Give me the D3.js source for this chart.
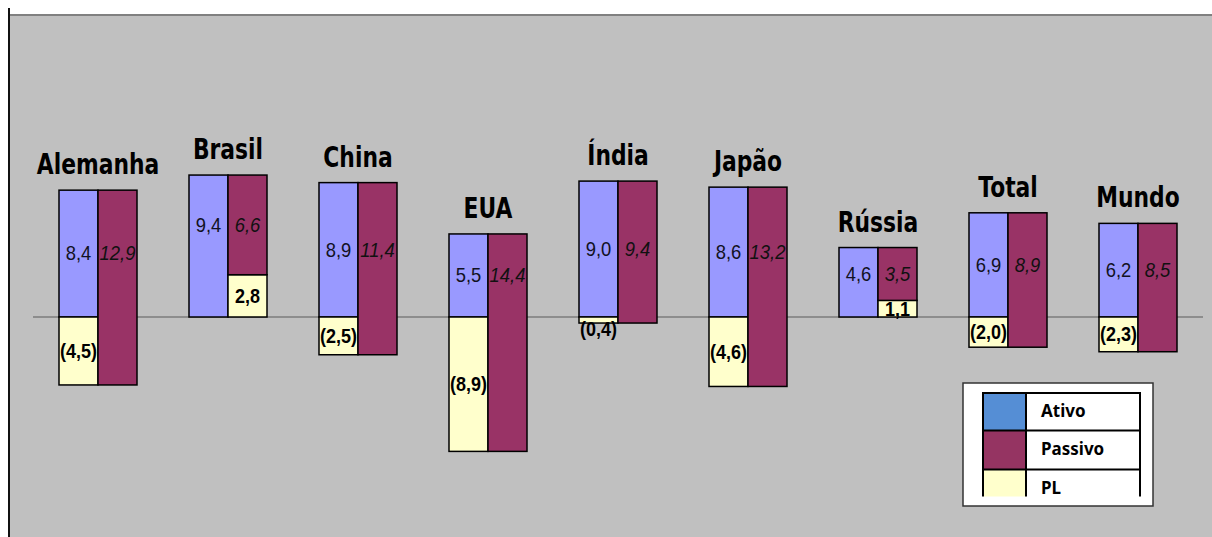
<!DOCTYPE html>
<html>
<head>
<meta charset="utf-8">
<script src="https://cdn.jsdelivr.net/npm/d3@7/dist/d3.min.js"></script>
<style>
  html, body { margin: 0; padding: 0; background: #ffffff; }
  svg { display: block; }
</style>
</head>
<body>
<svg id="chart" width="1212" height="537"></svg>
<script>
// Balance-sheet style comparison: Ativo = Passivo + PL, by country
const categories = ["Alemanha", "Brasil", "China", "EUA", "Índia", "Japão", "Rússia", "Total", "Mundo"];
const ativo   = [8.4, 9.4, 8.9, 5.5, 9.0, 8.6, 4.6, 6.9, 6.2];
const passivo = [12.9, 6.6, 11.4, 14.4, 9.4, 13.2, 3.5, 8.9, 8.5];
const pl      = [-4.5, 2.8, -2.5, -8.9, -0.4, -4.6, 1.1, -2.0, -2.3];
const legendLabels = ["Ativo", "Passivo", "PL"];

const colors = { ativo: "#9999FF", passivo: "#993366", pl: "#FFFFCC" };
const legendColors = ["#558ED5", "#953462", "#FFFFCC"];

const W = 1212, H = 537;
const svg = d3.select("#chart");

// Frame: white strip on top, grey plot area, left rule
svg.append("rect").attr("x", 0).attr("y", 0).attr("width", W).attr("height", H).attr("fill", "#ffffff");
svg.append("rect").attr("x", 10).attr("y", 15).attr("width", W - 10).attr("height", H - 15).attr("fill", "#C0C0C0");
svg.append("line").attr("x1", 10).attr("x2", W).attr("y1", 15).attr("y2", 15)
  .attr("stroke", "#808080").attr("stroke-width", 2);
svg.append("line").attr("x1", 9).attr("x2", 9).attr("y1", 8).attr("y2", H)
  .attr("stroke", "#111111").attr("stroke-width", 2);

// Scales
const x = d3.scaleBand().domain(categories).range([33, 1203]).paddingInner(0.4).paddingOuter(0.2);
const y = d3.scaleLinear().domain([-15, 20]).range([543.5, 15]);
const half = x.bandwidth() / 2;

const loc = d3.formatLocale({ decimal: ",", thousands: ".", grouping: [3], currency: ["", ""] });
const f1 = loc.format(".1f");
const fmt = v => v < 0 ? "(" + f1(-v) + ")" : f1(v);

const rows = categories.map((c, i) => ({ c, a: ativo[i], p: passivo[i], e: pl[i] }));

// Zero line
svg.append("line").attr("x1", 33).attr("x2", 1203).attr("y1", y(0)).attr("y2", y(0))
  .attr("stroke", "#5a5a5a").attr("stroke-width", 1);

const g = svg.append("g");
const stroke = "#000000", sw = 1.5;

const groups = g.selectAll("g.grp").data(rows).join("g").attr("class", "grp");

// Ativo column: from 0 up to the asset value
groups.append("rect")
  .attr("x", d => x(d.c)).attr("width", half)
  .attr("y", d => y(d.a)).attr("height", d => y(0) - y(d.a))
  .attr("fill", colors.ativo).attr("stroke", stroke).attr("stroke-width", sw);

// PL: below the Ativo column when negative, under the Passivo column when positive
groups.append("rect")
  .attr("x", d => d.e < 0 ? x(d.c) : x(d.c) + half).attr("width", half)
  .attr("y", d => y(Math.max(d.e, 0))).attr("height", d => Math.abs(y(d.e) - y(0)))
  .attr("fill", colors.pl).attr("stroke", stroke).attr("stroke-width", sw);

// Passivo column: stacked from PL up to PL + Passivo
groups.append("rect")
  .attr("x", d => x(d.c) + half).attr("width", half)
  .attr("y", d => y(d.e + d.p)).attr("height", d => y(d.e) - y(d.e + d.p))
  .attr("fill", colors.passivo).attr("stroke", stroke).attr("stroke-width", sw);

// Value labels
const labelY = d => (y(Math.max(d.e, 0)) + y(d.a)) / 2;
const cond = (tx, ty, s) => `translate(${tx},${ty}) scale(${s},1)`;

groups.append("text")
  .attr("transform", d => cond(x(d.c) + half / 2, labelY(d), 0.92))
  .attr("text-anchor", "middle").attr("dominant-baseline", "central")
  .attr("font-family", "Liberation Sans, Arial, sans-serif").attr("font-size", 20)
  .attr("fill", "#111122")
  .text(d => fmt(d.a));

groups.append("text")
  .attr("transform", d => cond(x(d.c) + half * 1.5, labelY(d), 0.92))
  .attr("text-anchor", "middle").attr("dominant-baseline", "central")
  .attr("font-family", "Liberation Sans, Arial, sans-serif").attr("font-size", 20)
  .attr("font-style", "italic").attr("fill", "#111111")
  .text(d => fmt(d.p));

groups.append("text")
  .attr("transform", d => {
    const cx = d.e < 0 ? x(d.c) + half / 2 : x(d.c) + half * 1.5;
    let cy = (y(0) + y(d.e)) / 2;
    if (d.e < 0) cy = Math.max(cy, y(0) + 12);
    return cond(cx, cy, 0.9);
  })
  .attr("text-anchor", "middle").attr("dominant-baseline", "central")
  .attr("font-family", "Liberation Sans, Arial, sans-serif").attr("font-size", 20)
  .attr("font-weight", "bold").attr("fill", "#000000")
  .text(d => fmt(d.e));

// Category titles above each pair of columns
groups.append("text")
  .attr("transform", d => cond(x(d.c) + half, y(Math.max(d.a, d.e + d.p)) - 16, 0.78))
  .attr("text-anchor", "middle")
  .attr("font-family", "DejaVu Sans, sans-serif").attr("font-size", 28)
  .attr("font-weight", "bold").attr("fill", "#000000")
  .text(d => d.c);

// Legend
const lg = svg.append("g");
lg.append("rect").attr("x", 963).attr("y", 383).attr("width", 190).attr("height", 123)
  .attr("fill", "#ffffff").attr("stroke", "#333333").attr("stroke-width", 1.5);

const tL = 983, tR = 1140, tTop = 393, swR = 1026;
const rowY = [393, 430.5, 469.5, 496.5];
legendLabels.forEach((lab, i) => {
  lg.append("rect").attr("x", tL).attr("y", rowY[i])
    .attr("width", swR - tL).attr("height", rowY[i + 1] - rowY[i])
    .attr("fill", legendColors[i]);
  lg.append("text").attr("x", 1041).attr("y", rowY[i] + 24)
    .attr("font-family", "Noto Sans, sans-serif").attr("font-size", 17)
    .attr("font-weight", "bold").attr("fill", "#000000")
    .text(lab);
});
// table rules
[393, 430.5, 469.5].forEach(yy => {
  lg.append("line").attr("x1", tL - 1).attr("x2", tR + 1).attr("y1", yy).attr("y2", yy)
    .attr("stroke", "#000").attr("stroke-width", 2);
});
[tL, swR, tR].forEach(xx => {
  lg.append("line").attr("x1", xx).attr("x2", xx).attr("y1", tTop - 1).attr("y2", 496.5)
    .attr("stroke", "#000").attr("stroke-width", 2);
});
</script>
</body>
</html>
